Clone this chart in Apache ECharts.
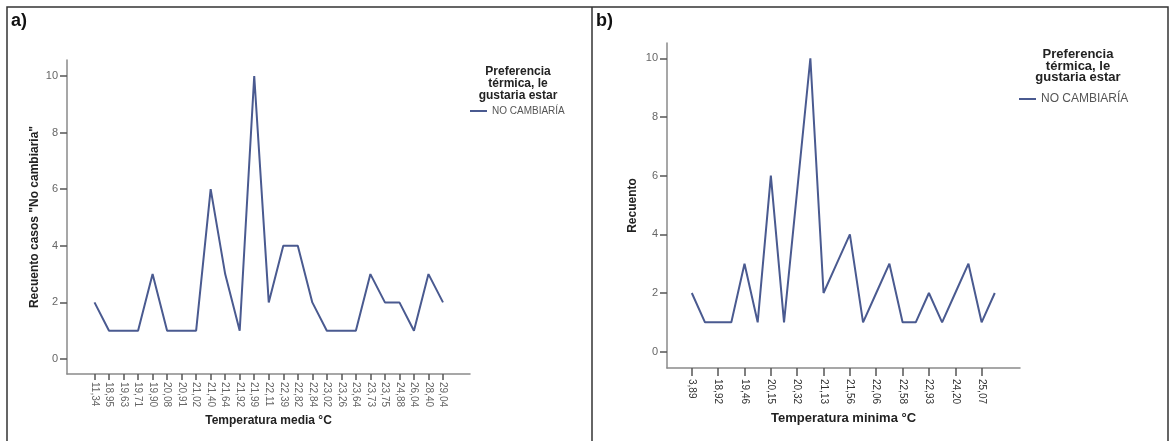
<!DOCTYPE html>
<html>
<head>
<meta charset="utf-8">
<script src="https://cdn.jsdelivr.net/npm/echarts@6/dist/echarts.min.js"></script>
<style>
  html, body { margin: 0; padding: 0; background: #fff; }
  #c { width: 1171px; height: 441px; }
</style>
</head>
<body>
<div id="c"></div>
<script>
const FONT = '"Liberation Sans", Arial, Helvetica, sans-serif';

// a) cases "No cambiaría" by mean temperature
const tempMedia = ['11,34','18,95','19,63','19,71','19,90','20,08','20,91','21,02','21,40','21,64',
                   '21,92','21,99','22,11','22,39','22,82','22,84','23,02','23,26','23,64','23,73',
                   '23,75','24,88','26,04','28,40','29,04'];
const casosMedia = [2, 1, 1, 1, 3, 1, 1, 1, 6, 3, 1, 10, 2, 4, 4, 2, 1, 1, 1, 3, 2, 2, 1, 3, 2];

// b) count by minimum temperature (only every other category is labelled)
const tempMinima = ['3,89','18,40','18,92','19,20','19,46','19,80','20,15','20,25','20,32','20,75',
                    '21,13','21,30','21,56','21,85','22,06','22,30','22,58','22,75','22,93','23,60',
                    '24,20','24,70','25,07','26,50'];
const casosMinima = [2, 1, 1, 1, 3, 1, 6, 1, 5.5, 10, 2, 3, 4, 1, 2, 3, 1, 1, 2, 1, 2, 3, 1, 2];

const yTicks = [0, 2, 4, 6, 8, 10];
const seriesName = 'NO CAMBIARÍA';
const legendTitle = 'Preferencia\ntérmica, le\ngustaria estar';

const LINE = '#4a5a90';
const AXIS = '#8a8a8a';

const allIdx = arr => arr.map((_, i) => i);
const evenIdx = arr => allIdx(arr).filter(i => i % 2 === 0);
const points = vals => vals.map((v, i) => [i, v]);

function catAxis(gridIndex, cats, shown, min, max, o) {
  return {
    type: 'value', gridIndex, min, max,
    axisLine: { show: true, onZero: false, lineStyle: { color: AXIS, width: 1.5 } },
    splitLine: { show: false },
    axisTick: { show: true, customValues: shown, length: o.tickLen, lineStyle: { color: '#555', width: 1.5 } },
    axisLabel: {
      customValues: shown, rotate: -90, margin: o.margin,
      formatter: v => cats[Math.round(v)],
      fontFamily: FONT, fontSize: 10, color: o.labelColor
    },
    name: o.name, nameLocation: 'middle', nameGap: o.nameGap,
    nameTextStyle: { fontFamily: FONT, fontSize: o.nameSize, fontWeight: 'bold', color: '#222' }
  };
}

function countAxis(gridIndex, min, max, o) {
  return {
    type: 'value', gridIndex, min, max,
    axisLine: { show: true, onZero: false, lineStyle: { color: AXIS, width: 1.5 } },
    splitLine: { show: false },
    axisTick: { show: true, customValues: yTicks, length: 7, lineStyle: { color: '#555', width: 1.5 } },
    axisLabel: { customValues: yTicks, margin: 9, fontFamily: FONT, fontSize: 11, color: '#666' },
    name: o.name, nameLocation: 'middle', nameRotate: 90, nameGap: o.nameGap,
    nameTextStyle: { fontFamily: FONT, fontSize: 12, fontWeight: 'bold', color: '#222' }
  };
}

function lineSeries(i, vals) {
  return {
    type: 'line', name: seriesName, xAxisIndex: i, yAxisIndex: i,
    data: points(vals), symbol: 'none',
    lineStyle: { color: LINE, width: 2 }, itemStyle: { color: LINE }
  };
}

function legend(left, top, fontSize) {
  return {
    left, top, orient: 'vertical', selectedMode: false, icon: 'rect',
    itemWidth: 17, itemHeight: 2, padding: 0,
    data: [seriesName],
    textStyle: { fontFamily: FONT, fontSize, color: '#555' }
  };
}

const chart = echarts.init(document.getElementById('c'), null, { renderer: 'canvas' });
chart.setOption({
  animation: false,
  backgroundColor: '#fff',
  grid: [
    { left: 67, top: 60, width: 403, height: 314, outerBoundsMode: 'none' },
    { left: 667, top: 43, width: 353, height: 325, outerBoundsMode: 'none' }
  ],
  xAxis: [
    catAxis(0, tempMedia, allIdx(tempMedia), -1.894, 25.86,
      { tickLen: 6, margin: 8, labelColor: '#666', name: 'Temperatura media °C', nameGap: 40, nameSize: 12 }),
    catAxis(1, tempMinima, evenIdx(tempMinima), -1.884, 24.915,
      { tickLen: 8, margin: 11, labelColor: '#333', name: 'Temperatura minima °C', nameGap: 41, nameSize: 13 })
  ],
  yAxis: [
    countAxis(0, -0.53, 10.565, { name: 'Recuento casos "No cambiaria"', nameGap: 26 }),
    countAxis(1, -0.556, 10.52, { name: 'Recuento', nameGap: 28 })
  ],
  legend: [legend(470, 106, 10), legend(1019, 93, 12)],
  series: [lineSeries(0, casosMedia), lineSeries(1, casosMinima)],
  graphic: [
    { type: 'rect', silent: true, shape: { x: 7, y: 7, width: 1161, height: 460 },
      style: { fill: 'none', stroke: '#333', lineWidth: 1.5 } },
    { type: 'line', silent: true, shape: { x1: 592, y1: 7, x2: 592, y2: 441 },
      style: { stroke: '#333', lineWidth: 1.5 } },
    { type: 'text', silent: true, x: 11, y: 12,
      style: { text: 'a)', font: 'bold 18px ' + FONT, fill: '#111' } },
    { type: 'text', silent: true, x: 596, y: 12,
      style: { text: 'b)', font: 'bold 18px ' + FONT, fill: '#111' } },
    { type: 'text', silent: true, x: 518, y: 66,
      style: { text: legendTitle, font: 'bold 12px ' + FONT, fill: '#222',
               align: 'center', verticalAlign: 'top', lineHeight: 12 } },
    { type: 'text', silent: true, x: 1078, y: 49,
      style: { text: legendTitle, font: 'bold 13px ' + FONT, fill: '#222',
               align: 'center', verticalAlign: 'top', lineHeight: 11.5 } }
  ]
});
</script>
</body>
</html>
